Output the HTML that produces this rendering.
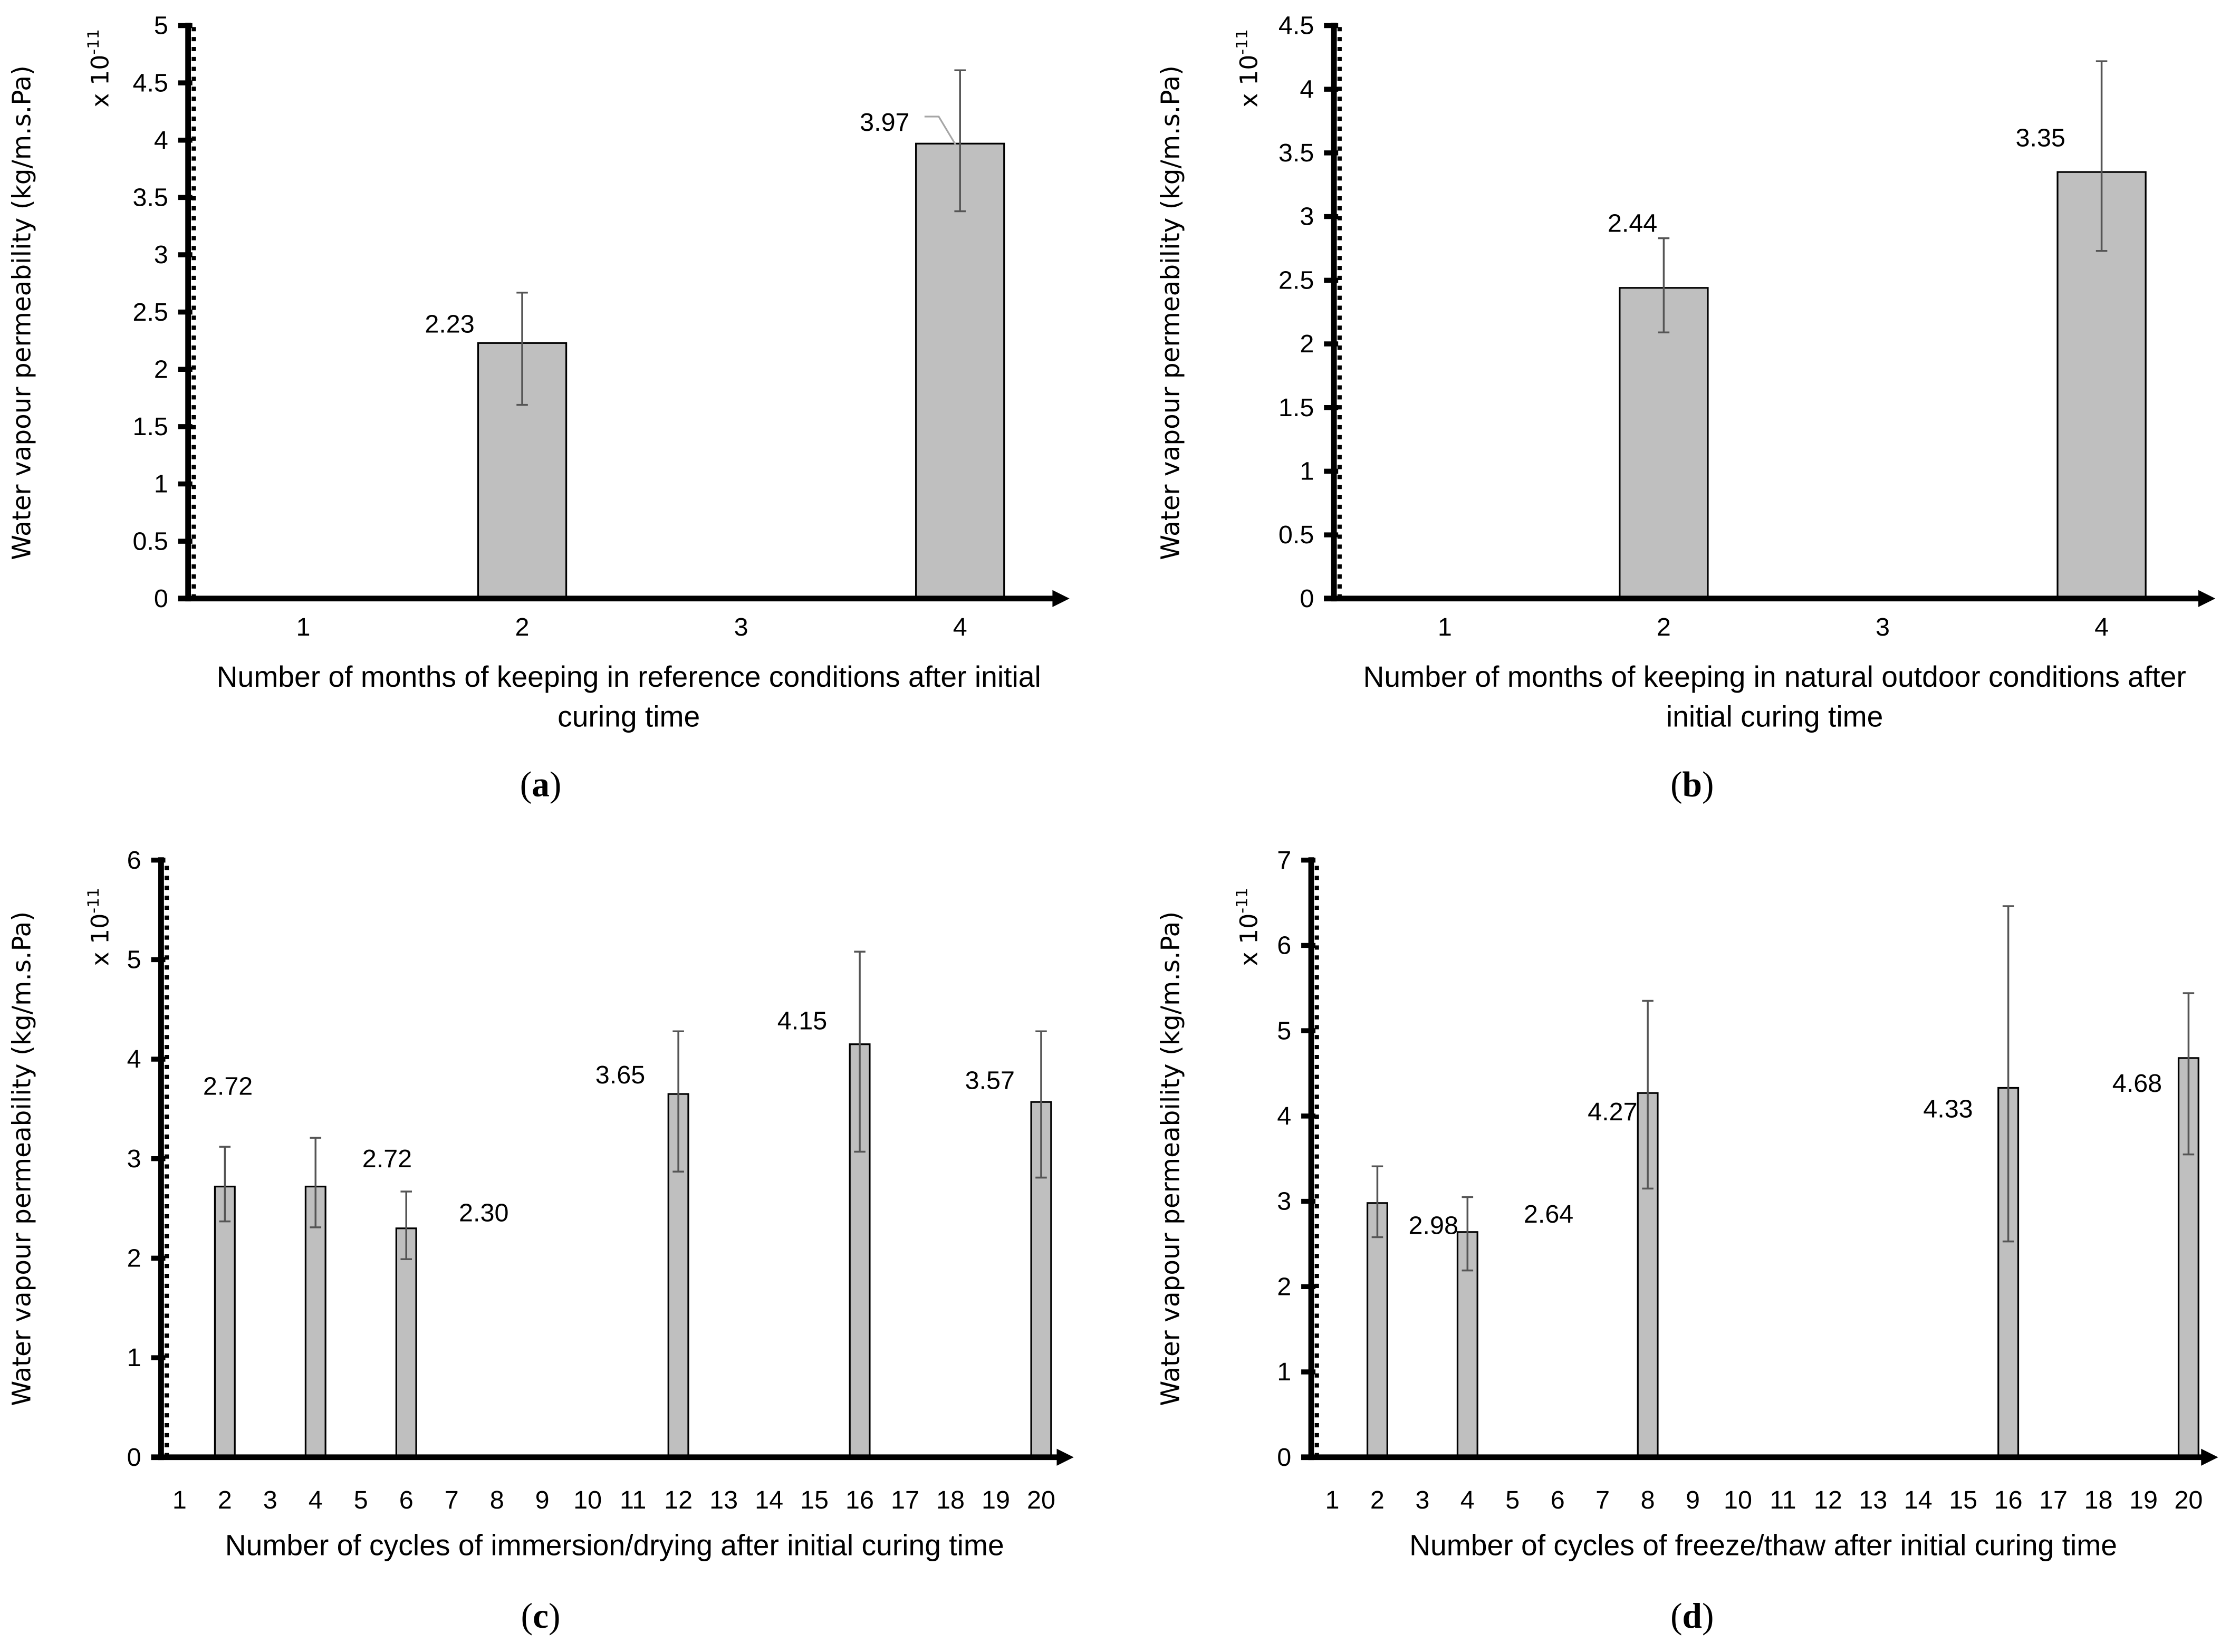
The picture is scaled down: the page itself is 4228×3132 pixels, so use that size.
<!DOCTYPE html>
<html><head><meta charset="utf-8"><style>
html,body{margin:0;padding:0;background:#fff}
svg{display:block}
text{font-family:"Liberation Sans Narrow","Liberation Sans",sans-serif;fill:#000}
.yt{font-family:"DejaVu Sans","Liberation Sans",sans-serif}
.cap{font-family:"Liberation Serif",serif;font-size:25px}
</style></head><body>
<svg id="fig" width="4228" height="3132" viewBox="0 0 1568 1162" xmlns="http://www.w3.org/2000/svg"></svg>
<script>
// Panel (a)
const catsA = ["1","2","3","4"];
const valsA = [null, 2.23, null, 3.97];
const errLoA = [null, 1.69, null, 3.38];
const errHiA = [null, 2.67, null, 4.61];
const ticksA = ["0","0.5","1","1.5","2","2.5","3","3.5","4","4.5","5"];
// Panel (b)
const catsB = ["1","2","3","4"];
const valsB = [null, 2.44, null, 3.35];
const errLoB = [null, 2.09, null, 2.73];
const errHiB = [null, 2.83, null, 4.22];
const ticksB = ["0","0.5","1","1.5","2","2.5","3","3.5","4","4.5"];
// Panel (c)
const catsC = ["1","2","3","4","5","6","7","8","9","10","11","12","13","14","15","16","17","18","19","20"];
const valsC = [null,2.72,null,2.72,null,2.30,null,null,null,null,null,3.65,null,null,null,4.15,null,null,null,3.57];
const errLoC = [null,2.37,null,2.31,null,1.99,null,null,null,null,null,2.87,null,null,null,3.07,null,null,null,2.81];
const errHiC = [null,3.12,null,3.21,null,2.67,null,null,null,null,null,4.28,null,null,null,5.08,null,null,null,4.28];
const labelsC = ["","2.72","","2.72","","2.30","","","","","","3.65","","","","4.15","","","","3.57"];
const ticksC = ["0","1","2","3","4","5","6"];
// Panel (d)
const catsD = ["1","2","3","4","5","6","7","8","9","10","11","12","13","14","15","16","17","18","19","20"];
const valsD = [null,2.98,null,2.64,null,null,null,4.27,null,null,null,null,null,null,null,4.33,null,null,null,4.68];
const errLoD = [null,2.58,null,2.19,null,null,null,3.15,null,null,null,null,null,null,null,2.53,null,null,null,3.55];
const errHiD = [null,3.41,null,3.05,null,null,null,5.35,null,null,null,null,null,null,null,6.46,null,null,null,5.44];
const labelsD = ["","2.98","","2.64","","","","4.27","","","","","","","","4.33","","","","4.68"];
const ticksD = ["0","1","2","3","4","5","6","7"];

const NS="http://www.w3.org/2000/svg";
const svg=document.getElementById('fig');
function mk(tag,attrs,parent){const e=document.createElementNS(NS,tag);for(const k in attrs)e.setAttribute(k,attrs[k]);(parent||svg).appendChild(e);return e;}

function panel(o){
  const g=mk('g',{});
  
  
  const ymax=parseFloat(o.ticks[o.ticks.length-1]);
  const y=v=>o.y0-(v/ymax)*(o.y0-o.yTop);
  const n=o.cats.length;
  const band=(o.xEnd-o.x0)/n;
  const xc=i=>o.x0+band*(i+0.5);
  o.vals.forEach((v,i)=>{
    if(v==null)return;
    const r=mk('rect',{x:xc(i)+o.dx-o.bw/2,y:y(v),width:o.bw,height:o.y0-y(v),fill:'#bfbfbf',stroke:'#000','stroke-width':1.2},g);
    
    
    const cx=xc(i)+o.dx;
    const eb=mk('path',{d:`M${cx},${y(o.lo[i])}V${y(o.hi[i])}M${cx-4},${y(o.lo[i])}H${cx+4}M${cx-4},${y(o.hi[i])}H${cx+4}`,stroke:'#555','stroke-width':1.3,fill:'none'},g);
    
    
  });
  o.labels.forEach((L,i)=>{
    if(!L.t)return;
    const t=mk('text',{x:L.x,y:L.y,'font-size':18,'text-anchor':'middle'},g);
    t.textContent=L.t;
    
    
  });
  mk('line',{x1:o.x0,y1:o.y0+2,x2:o.x0,y2:o.yTop-2,stroke:'#000','stroke-width':4},g);
  mk('line',{x1:o.x0+4,y1:o.y0,x2:o.x0+4,y2:o.yTop,stroke:'#000','stroke-width':3,'stroke-dasharray':'3 4'},g);
  o.ticks.forEach(tk=>{
    const v=parseFloat(tk);
    mk('line',{x1:o.x0-7,y1:y(v),x2:o.x0+3,y2:y(v),stroke:'#000','stroke-width':3.5},g);
    const t=mk('text',{x:o.x0-14,y:y(v)+6,'font-size':18,'text-anchor':'end'},g);
    t.textContent=tk;
    
    
  });
  mk('line',{x1:o.x0-7,y1:o.y0,x2:o.xEnd-6,y2:o.y0,stroke:'#000','stroke-width':4},g);
  mk('path',{d:`M${o.xEnd-8},${o.y0-6}L${o.xEnd+4},${o.y0}L${o.xEnd-8},${o.y0+6}Z`,fill:'#000'},g);
  o.cats.forEach((c,i)=>{
    const t=mk('text',{x:xc(i)+o.dx,y:o.xLabY,'font-size':18,'text-anchor':'middle'},g);
    t.textContent=c;
    
    
  });
  o.xt.forEach((line,k)=>{
    const t=mk('text',{x:o.xtX,y:o.xtY+k*28,'font-size':20.5,'text-anchor':'middle'},g);
    t.textContent=line;
    
    
  });
  const yt=mk('text',{x:0,y:0,'font-size':18,'text-anchor':'middle',class:'yt',transform:`translate(${o.ytX},${o.ytY}) rotate(-90)`},g);
  yt.textContent='Water vapour permeability (kg/m.s.Pa)';
  
  
  const ex=mk('text',{x:0,y:0,'font-size':17,'text-anchor':'middle',class:'yt',transform:`translate(${o.ytX+55},${o.exY}) rotate(-90)`},g);
  ex.innerHTML='x 10<tspan dy="-7" font-size="11">-11</tspan>';
  
  
  const cap=mk('text',{x:o.capX,y:o.capY,'text-anchor':'middle',class:'cap'},g);
  cap.innerHTML='(<tspan font-weight="bold">'+o.cap+'</tspan>)';
  
  
  return {g,y,xc};
}

const pa=panel({name:'chart-a',cats:catsA,vals:valsA,lo:errLoA,hi:errHiA,ticks:ticksA,x0:132,xEnd:748,y0:421,yTop:18,bw:62,dx:4,xLabY:447,
  labels:[{},{t:'2.23',x:316,y:234},{},{t:'3.97',x:622,y:92}],
  xt:['Number of months of keeping in reference conditions after initial','curing time'],xtX:442,xtY:483,ytX:21,ytY:220,exY:48,capX:380,capY:560,cap:'a'});
mk('path',{d:'M650,82H660L672,102',stroke:'#a6a6a6','stroke-width':1.2,fill:'none'},pa.g);
panel({name:'chart-b',cats:catsB,vals:valsB,lo:errLoB,hi:errHiB,ticks:ticksB,x0:938,xEnd:1554,y0:421,yTop:18,bw:62,dx:1,xLabY:447,
  labels:[{},{t:'2.44',x:1148,y:163},{},{t:'3.35',x:1435,y:103}],
  xt:['Number of months of keeping in natural outdoor conditions after','initial curing time'],xtX:1248,xtY:483,ytX:829,ytY:220,exY:48,capX:1190,capY:560,cap:'b'});
panel({name:'chart-c',cats:catsC,vals:valsC,lo:errLoC,hi:errHiC,ticks:ticksC,x0:113,xEnd:751,y0:1025,yTop:605,bw:14,dx:-3,xLabY:1061,
  labels:[{},{t:'2.72',x:160,y:770},{},{t:'2.72',x:272,y:821},{},{t:'2.30',x:340,y:859},{},{},{},{},{},{t:'3.65',x:436,y:762},{},{},{},{t:'4.15',x:564,y:724},{},{},{},{t:'3.57',x:696,y:766}],
  xt:['Number of cycles of immersion/drying  after initial curing time'],xtX:432,xtY:1094,ytX:21,ytY:815,exY:652,capX:380,capY:1145,cap:'c'});
panel({name:'chart-d',cats:catsD,vals:valsD,lo:errLoD,hi:errHiD,ticks:ticksD,x0:922,xEnd:1556,y0:1025,yTop:605,bw:14,dx:-1,xLabY:1061,
  labels:[{},{t:'2.98',x:1008,y:868},{},{t:'2.64',x:1089,y:860},{},{},{},{t:'4.27',x:1134,y:788},{},{},{},{},{},{},{},{t:'4.33',x:1370,y:786},{},{},{},{t:'4.68',x:1503,y:768}],
  xt:['Number of cycles of freeze/thaw after initial curing time'],xtX:1240,xtY:1094,ytX:829,ytY:815,exY:652,capX:1190,capY:1145,cap:'d'});
</script>
</body></html>
